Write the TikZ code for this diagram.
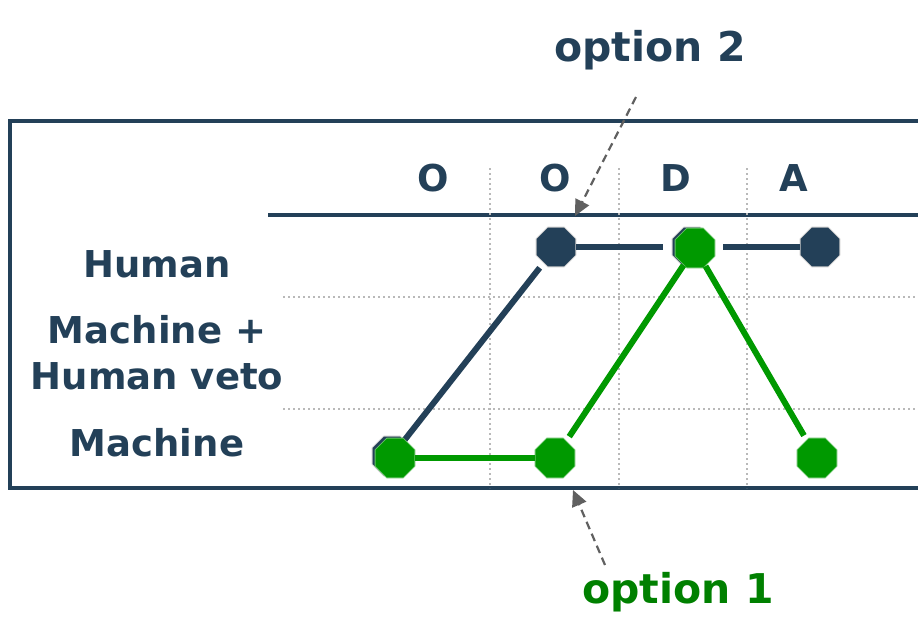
\documentclass[tikz,border=0pt]{standalone}
\usepackage{fontspec}
\setmainfont{DejaVu Sans}
\usepackage{xcolor}
\usepackage{tikz}
\usetikzlibrary{arrows.meta,shapes.geometric}

\definecolor{navy}{RGB}{35,64,88}
\definecolor{leaf}{RGB}{0,153,0}
\definecolor{leaftext}{RGB}{0,128,0}
\definecolor{hintgray}{RGB}{96,96,96}

\begin{document}
\begin{tikzpicture}[
    x=1pt, y=-1pt,
    lbl/.style={font=\fontsize{37}{46}\selectfont\bfseries, text=navy, align=center, inner sep=0pt},
    opt/.style={font=\fontsize{41}{48}\selectfont\bfseries, inner sep=0pt},
    frame/.style={navy, line width=3.2pt},
    grid/.style={gray!55, line width=2.6pt, dash pattern=on 2.4pt off 2.6pt},
    octo/.style={regular polygon, regular polygon sides=8, minimum size=43pt, inner sep=0pt, line width=0.8pt},
    hnode/.style={octo, fill=navy, draw=gray!40},
    mnode/.style={octo, fill=leaf, draw=leaf!60!white},
    hlink/.style={navy, line width=6pt},
    mlink/.style={leaf, line width=6pt},
    callout/.style={hintgray, line width=2.2pt, dash pattern=on 8pt off 5pt, -{Triangle[length=16pt,width=15pt]}}
  ]
    \useasboundingbox (0,0) rectangle (918,616);

    % table frame
    \draw[frame] (918,121) -- (10,121) -- (10,488) -- (918,488);
    \draw[frame] (268,215) -- (918,215);
    \foreach \x in {490,619,747}
      \draw[grid] (\x,168) -- (\x,488);
    \foreach \y in {297,409}
      \draw[grid] (283,\y) -- (918,\y);

    % column and row headings
    \node[lbl] (colO1) at (433,178) {O};
    \node[lbl] (colO2) at (555,178) {O};
    \node[lbl] (colD) at (676,178) {D};
    \node[lbl] (colA) at (794,178) {A};
    \node[lbl] (human) at (157,264) {Human};
    \node[lbl] (veto) at (157,353) {Machine +\\Human veto};
    \node[lbl] (machine) at (157,443) {Machine};

    % option 2 (human path)
    \node[hnode] (h1) at (392,456) {};
    \node[hnode] (h2) at (556,247) {};
    \node[hnode] (h3) at (692,247) {};
    \node[hnode] (h4) at (820,247) {};
    \draw[hlink, shorten >=6pt] (h1) -- (h2);
    \draw[hlink, shorten >=9pt] (h2) -- (h3);
    \draw[hlink, shorten <=11pt] (h3) -- (h4);

    % option 1 (machine path)
    \node[mnode] (m1) at (395,458) {};
    \node[mnode] (m2) at (555,458) {};
    \node[mnode] (m3) at (695,248) {};
    \node[mnode] (m4) at (817,458) {};
    \draw[mlink] (m1) -- (m2);
    \draw[mlink, shorten <=5pt] (m2) -- (m3);
    \draw[mlink, shorten >=5pt] (m3) -- (m4);

    % callouts
    \node[opt, text=navy] (opt2) at (650,50) {option 2};
    \node[opt, text=leaftext] (opt1) at (678,592) {option 1};
    \coordinate (opt2from) at (636,97);
    \coordinate (opt2to) at (575,216);
    \coordinate (opt1from) at (605,565);
    \coordinate (opt1to) at (573,490);
    \draw[callout] (opt2from) -- (opt2to);
    \draw[callout] (opt1from) -- (opt1to);
\end{tikzpicture}
\end{document}
